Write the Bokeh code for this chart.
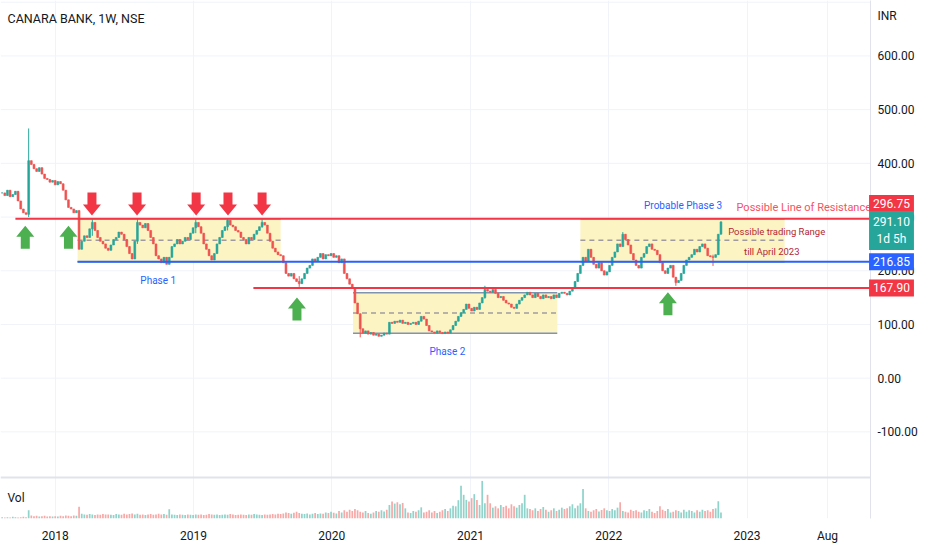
import numpy as np
import pandas as pd
from bokeh.plotting import figure
from bokeh.models import Range1d, FixedTicker, Label, ColumnDataSource
from bokeh.core.properties import value
from bokeh.embed import file_html
from bokeh.resources import INLINE

# ---------------- data ----------------
start_week = "2017-08-14"
first_open = 345
closes = [
    345, 340, 350, 338, 342, 348, 330, 315, 308, 305,
    405, 398, 390, 385, 392, 380, 372, 370, 365, 368,
    360, 366, 362, 350, 332, 318, 315, 308, 312, 240,
    255, 265, 262, 278, 290, 275, 262, 255, 250, 242,
    238, 248, 258, 262, 272, 268, 258, 245, 232, 222,
    255, 290, 285, 280, 288, 275, 262, 250, 228, 222,
    215, 225, 212, 225, 245, 250, 258, 250, 255, 262,
    258, 270, 280, 290, 282, 270, 250, 240, 228, 220,
    232, 250, 262, 275, 282, 294, 285, 282, 275, 272,
    262, 258, 250, 262, 258, 268, 275, 282, 290, 285,
    270, 255, 242, 235, 230, 228, 215, 195, 190, 195,
    185, 180, 176, 185, 195, 205, 210, 222, 218, 225,
    232, 222, 230, 228, 232, 225, 228, 215, 222, 195,
    185, 175, 168, 140, 120, 92, 84, 88, 82, 85,
    80, 82, 78, 80, 84, 82, 104, 102, 106, 104,
    108, 102, 104, 100, 102, 104, 100, 106, 115, 110,
    98, 88, 86, 84, 88, 85, 83, 86, 84, 90,
    98, 106, 115, 122, 128, 138, 130, 125, 132, 128,
    140, 150, 165, 162, 160, 165, 158, 150, 152, 145,
    140, 138, 132, 130, 138, 145, 150, 155, 160, 155,
    150, 158, 152, 148, 155, 150, 152, 148, 155, 150,
    158, 160, 158, 155, 162, 168, 180, 195, 210, 225,
    218, 240, 225, 212, 205, 215, 200, 192, 198, 210,
    225, 235, 250, 245, 268, 258, 248, 232, 220, 210,
    205, 225, 232, 245, 250, 240, 238, 230, 215, 200,
    195, 205, 210, 188, 178, 182, 195, 210, 220, 225,
    230, 240, 235, 245, 250, 242, 228, 226, 225, 230,
    268, 291.10,
]
volumes = [
    4, 3, 4, 3, 5, 4, 3, 4, 5, 4,
    24, 9, 7, 8, 6, 7, 8, 6, 7, 6,
    7, 6, 8, 7, 9, 8, 7, 9, 8, 35,
    14, 12, 11, 13, 12, 10, 12, 11, 13, 12,
    12, 11, 10, 13, 12, 11, 14, 12, 13, 15,
    12, 14, 11, 12, 10, 12, 13, 11, 12, 14,
    12, 13, 11, 27, 12, 11, 10, 12, 11, 10,
    12, 11, 10, 12, 11, 12, 10, 11, 13, 12,
    11, 12, 10, 11, 12, 11, 13, 12, 10, 11,
    12, 11, 10, 12, 11, 13, 12, 11, 10, 12,
    11, 12, 13, 12, 14, 13, 15, 18, 16, 14,
    17, 20, 16, 14, 13, 15, 12, 14, 16, 13,
    15, 14, 18, 16, 20, 17, 15, 22, 18, 24,
    20, 26, 22, 28, 24, 20, 18, 22, 16, 14,
    18, 22, 20, 24, 21, 26, 40, 50, 44, 48,
    42, 46, 30, 18, 16, 22, 20, 24, 33, 18,
    20, 24, 18, 22, 16, 20, 24, 28, 22, 30,
    38, 36, 54, 97, 70, 55, 50, 60, 72, 55,
    40, 111, 45, 70, 45, 32, 36, 30, 40, 34,
    38, 30, 42, 36, 32, 40, 45, 70, 30, 28,
    24, 30, 22, 28, 34, 26, 20, 24, 30, 22,
    26, 32, 28, 30, 36, 42, 30, 38, 45, 87,
    30, 22, 20, 24, 28, 21, 25, 30, 24, 22,
    28, 24, 32, 48, 22, 20, 18, 26, 22, 24,
    20, 18, 24, 22, 28, 20, 16, 22, 36, 26,
    22, 28, 18, 20, 24, 22, 18, 26, 20, 24,
    22, 18, 24, 20, 26, 22, 24, 20, 28, 30,
    51, 18,
]
wick_idx = [10, 34, 51, 73, 85, 98, 112, 135, 182, 234, 254, 268]
wick_high = [465, 296, 297, 296, 297, 296, 190, 95, 172, 272, 185, 230]
wick_low = [300, 265, 250, 270, 275, 280, 170, 76, 148, 245, 172, 209]

resistance = 296.75
support = 216.85
lower_support = 167.90
last_price = 291.10
line_starts = ["2017-09-18", "2018-03-01", "2019-06-08"]

phase_labels = ["Phase 1", "Phase 2", "Probable Phase 3"]
phase_start = ["2018-03-01", "2020-02-26", "2021-10-18"]
phase_end = ["2019-08-19", "2021-08-18", "2023-04-10"]
phase_low = [216.85, 83.7, 216.85]
phase_high = [296.75, 159.0, 296.75]

down_arrow_dates = ["2018-04-08", "2018-08-05", "2019-01-08", "2019-04-02", "2019-07-01"]
down_arrow_prices = [303, 303, 303, 303, 303]
up_arrow_dates = ["2017-10-14", "2018-02-05", "2019-10-01", "2022-06-06"]
up_arrow_prices = [284, 284, 150, 160]

x_tick_dates = ["2018-01-01", "2019-01-01", "2020-01-01", "2021-01-01", "2022-01-01", "2023-01-01", "2023-08-01"]
x_tick_labels = ["2018", "2019", "2020", "2021", "2022", "2023", "Aug"]
y_ticks = [-100, 0, 100, 200, 300, 400, 500, 600, 700]

# ---------------- geometry helpers ----------------
def ms(d):
    return float(pd.Timestamp(d).value // 10**6)

DAY = 86400000.0
WEEK = 7 * DAY
PX_PER_YEAR = 138.4
MSX = 365.25 * DAY / PX_PER_YEAR      # ms per pixel
PY = 1.0 / 0.537                      # price per pixel
W, FRAME_H, AXIS_X = 932, 518, 870
x_start = ms("2018-01-01") - 54.7 * MSX
x_end = x_start + W * MSX
y_top = 296.75 + 218.3 * PY
y_bot = y_top - FRAME_H * PY

def X(px):
    return x_start + px * MSX

def Y(py):
    return y_top - py * PY

FONT = "Roboto"
UP, DOWN = "#26a69a", "#ef5350"

# ---------------- candles ----------------
n = len(closes)
dates = pd.date_range(start_week, periods=n, freq="7D")
t = dates.values.astype("datetime64[ms]").astype(np.int64).astype(float)
opens = [first_open] + closes[:-1]
highs = [max(o, c) for o, c in zip(opens, closes)]
lows = [min(o, c) for o, c in zip(opens, closes)]
for k, i in enumerate(wick_idx):
    highs[i] = max(highs[i], wick_high[k])
    lows[i] = min(lows[i], wick_low[k])
colors = [UP if c >= o else DOWN for o, c in zip(opens, closes)]
vcolors = ["#8fd3ca" if c >= o else "#f7a9a7" for o, c in zip(opens, closes)]
src = ColumnDataSource(dict(
    t=t, open=opens, close=closes, high=highs, low=lows,
    top=[max(o, c) for o, c in zip(opens, closes)],
    bottom=[min(o, c) for o, c in zip(opens, closes)],
    color=colors, vcolor=vcolors, vol=volumes,
))

p = figure(
    frame_width=W, frame_height=FRAME_H,
    x_axis_type="datetime",
    x_range=Range1d(x_start, x_end), y_range=Range1d(y_bot, y_top),
    output_backend="svg", toolbar_location=None,
    min_border_left=0, min_border_top=0, min_border_right=0, min_border_bottom=32,
)
p.yaxis.visible = False
p.extra_y_ranges = {"vol": Range1d(0, 1530)}
p.outline_line_color = None
p.background_fill_color = "white"
p.border_fill_color = "white"

# time axis
p.xaxis.ticker = FixedTicker(ticks=[ms(d) for d in x_tick_dates])
p.xaxis.major_label_overrides = {ms(d): lab for d, lab in zip(x_tick_dates, x_tick_labels)}
p.xaxis.major_tick_line_color = None
p.xaxis.minor_tick_line_color = None
p.xaxis.axis_line_color = None
p.xaxis.major_label_text_font = FONT
p.xaxis.major_label_text_font_size = "12px"
p.xaxis.major_label_text_color = "#131722"
p.xaxis.major_label_standoff = 4
p.xgrid.grid_line_color = "#f0f3fa"
p.ygrid.grid_line_color = None

# horizontal price grid (price pane only)
p.segment(x0=[x_start] * len(y_ticks), y0=y_ticks, x1=[X(AXIS_X)] * len(y_ticks), y1=y_ticks,
          line_color="#f0f3fa", line_width=1)

# pane separator
p.segment(x0=[x_start], y0=[Y(477)], x1=[x_end], y1=[Y(477)], line_color="#e0e3eb", line_width=2)

# phase boxes
p.quad(left=[ms(d) for d in phase_start], right=[ms(d) for d in phase_end],
       bottom=phase_low, top=phase_high, fill_color="#fdf4c4", line_color=None)
for s, e, lo, hi in zip(phase_start, phase_end, phase_low, phase_high):
    p.segment(x0=[ms(s), ms(s)], y0=[lo, hi], x1=[ms(e), ms(e)], y1=[lo, hi],
              line_color="#8094b0", line_width=1.5)
    p.segment(x0=[ms(s)], y0=[(lo + hi) / 2], x1=[ms(e)], y1=[(lo + hi) / 2],
              line_color="#9e9aa0", line_width=1.5, line_dash="5 4")

# volume
p.vbar(x="t", width=WEEK * 0.65, top="vol", bottom=0, y_range_name="vol",
       fill_color="vcolor", line_color=None, source=src)

# candles
p.segment(x0="t", y0="low", x1="t", y1="high", line_color="color", line_width=1, source=src)
p.vbar(x="t", width=WEEK * 0.7, top="top", bottom="bottom", fill_color="color",
       line_color="color", line_width=0.6, source=src)

# horizontal lines
p.segment(x0=[ms(d) for d in line_starts], y0=[resistance, support, lower_support],
          x1=[X(AXIS_X)] * 3, y1=[resistance, support, lower_support],
          line_color=["#f23645", "#2962ff", "#f23645"], line_width=2)

# arrows
def arrow(xc, tip, direction):
    dx = [0, -9, -4.5, -4.5, 4.5, 4.5, 9]
    dy = [0, 11, 11, 23, 23, 11, 11]
    xs = [xc + v * MSX for v in dx]
    ys = [tip + direction * v * PY for v in dy]
    return xs, ys

dxs, dys = zip(*[arrow(ms(d), pr, 1) for d, pr in zip(down_arrow_dates, down_arrow_prices)])
p.patches(xs=list(dxs), ys=list(dys), fill_color="#f23645", line_color=None)
uxs, uys = zip(*[arrow(ms(d), pr, -1) for d, pr in zip(up_arrow_dates, up_arrow_prices)])
p.patches(xs=list(uxs), ys=list(uys), fill_color="#4caf50", line_color=None)

# price scale area (right)
p.quad(left=[X(AXIS_X)], right=[X(W + 5)], bottom=[Y(FRAME_H + 5)], top=[Y(-5)],
       fill_color="white", line_color=None)
p.segment(x0=[X(AXIS_X)], y0=[Y(-5)], x1=[X(AXIS_X)], y1=[Y(FRAME_H + 5)],
          line_color="#e0e3eb", line_width=1)
axis_ticks = [v for v in y_ticks if v <= 600]
p.text(x=[X(877)] * len(axis_ticks), y=axis_ticks, text=[f"{v:.2f}" for v in axis_ticks],
       text_font=value(FONT), text_font_size="12px", text_color="#131722",
       text_baseline="middle", text_align="left")

# text annotations
def lab(x, y, text, size, color, align="left", **kw):
    p.add_layout(Label(x=x, y=y, text=text, text_font=FONT, text_font_size=size,
                       text_color=color, text_align=align, text_baseline="middle", **kw))

lab(X(7), Y(18), "CANARA BANK, 1W, NSE", "12.5px", "#131722")
lab(X(7), Y(497), "Vol", "12px", "#131722")
lab(ms("2018-09-30"), 181.9, phase_labels[0], "10px", "#2962ff", "center")
lab(ms("2020-11-01"), 49.6, phase_labels[1], "10px", "#2962ff", "center")
lab(ms("2022-07-16"), 321.5, phase_labels[2], "10px", "#2962ff", "center")
lab(ms("2022-12-04"), 317.8, "Possible Line of Resistance", "11px", "#f7525f")
lab(ms("2022-11-12"), 273.1, "Possible trading Range", "9.5px", "#b22833")
lab(ms("2022-12-24"), 236.0, "till April 2023", "9.5px", "#b22833")

lab(X(877), Y(15), "INR", "12px", "#131722")
bx = X(891)
lab(bx, Y(203), f"{resistance:.2f}", "12px", "white", "center",
    background_fill_color="#f23645", padding=4)
lab(bx, Y(230), f"{last_price:.2f}\n1d 5h", "12px", "white", "center",
    background_fill_color="#26a69a", padding=4)
lab(bx, support, f"{support:.2f}", "12px", "white", "center",
    background_fill_color="#2962ff", padding=4)
lab(bx, lower_support, f"{lower_support:.2f}", "12px", "white", "center",
    background_fill_color="#f23645", padding=4)

open("out.html", "w").write(file_html(p, INLINE))
